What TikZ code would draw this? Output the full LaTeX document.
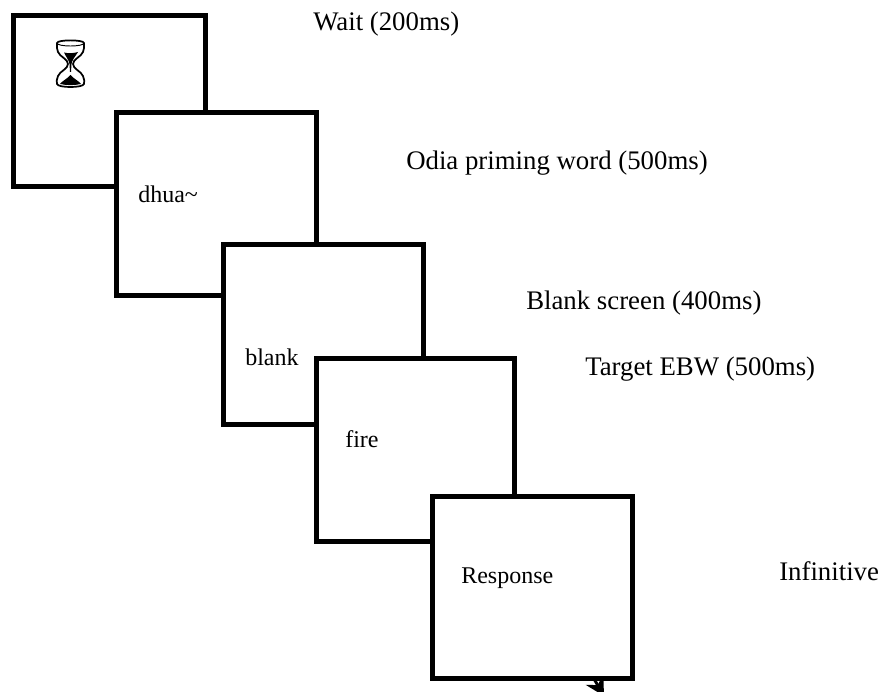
\documentclass[tikz,border=0pt]{standalone}
\usepackage{fontspec}
\setmainfont{Liberation Serif}
\usetikzlibrary{arrows.meta}
\tikzset{
  x=0.75pt,y=-0.75pt,
  screen/.style={draw=black,fill=white,line width=3.75pt,minimum width=150pt,inner sep=0pt,outer sep=0pt},
  inner/.style={anchor=west,inner sep=0pt,font=\fontsize{18pt}{20pt}\selectfont},
  outerlabel/.style={anchor=west,inner sep=0pt,font=\fontsize{20.1pt}{22pt}\selectfont}
}
\begin{document}
\begin{tikzpicture}
\useasboundingbox[fill=white] (0,0) rectangle (882,692);
\begin{scope}
\clip (0,0) rectangle (882,692);
\node[screen,minimum width=144pt,minimum height=127.5pt] (s1) at (109,101) {};
\node[screen,minimum width=150pt,minimum height=136.5pt] (s2) at (216,204) {};
\node[screen,minimum width=150pt,minimum height=135pt] (s3) at (323,334) {};
\coordinate (a1) at (590,672);
\coordinate (a2) at (604,696);
\draw[line width=2.2pt,-{Stealth[length=14pt,width=15pt]}] (a1) -- (a2);
\node[screen,minimum width=149pt,minimum height=137pt] (s4) at (415.5,450) {};
\node[screen,minimum width=150pt,minimum height=136.5pt] (s5) at (532,587) {};
\end{scope}
% hourglass
\draw[line width=1.3pt,fill=white,line join=round]
  (57,43) .. controls (57,39.5) and (84,39.5) .. (84,43)
  .. controls (84,47) and (84.5,49) .. (83,52)
  .. controls (81,57) and (73,59) .. (73,64)
  .. controls (73,69) and (81,71) .. (83,76)
  .. controls (84.5,79) and (84.5,82) .. (84,84)
  .. controls (83,88) and (58,88) .. (57,84)
  .. controls (56.5,82) and (56.5,79) .. (58,76)
  .. controls (60,71) and (68,69) .. (68,64)
  .. controls (68,59) and (60,57) .. (58,52)
  .. controls (56.5,49) and (57,47) .. (57,43) -- cycle;
\draw[line width=0.7pt] (57,43) .. controls (57,47) and (84,47) .. (84,43);
\fill[black] (64,52.5) .. controls (68,53.5) and (73,53.5) .. (78,52)
  .. controls (75,57) and (72,60) .. (71.5,64) -- (71,72) -- (70,72) -- (69.5,64)
  .. controls (69,60) and (66,57) .. (64,52.5) -- cycle;
\fill[black] (70.5,75) .. controls (74,79) and (79,81) .. (81,84)
  .. controls (74,85.5) and (67,85.5) .. (60,84)
  .. controls (62,81) and (67,79) .. (70.5,75) -- cycle;
% inner labels
\node[inner] (t2) at (138,194) {dhua\textasciitilde};
\node[inner] (t3) at (245,357) {blank};
\node[inner] (t4) at (345,439) {fire};
\node[inner] (t5) at (461,578) {Response};
% outer labels
\node[outerlabel] (l1) at (313,24) {Wait (200ms)};
\node[outerlabel] (l2) at (406,163) {Odia priming word (500ms)};
\node[outerlabel] (l3) at (526,303) {Blank screen (400ms)};
\node[outerlabel] (l4) at (585,369) {Target EBW (500ms)};
\node[outerlabel] (l5) at (779,571) {Infinitive};
\end{tikzpicture}
\end{document}
